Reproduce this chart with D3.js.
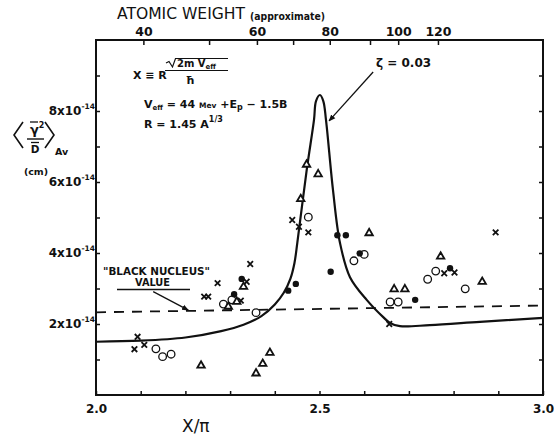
<!DOCTYPE html>
<html><head><meta charset="utf-8">
<script src="https://cdn.jsdelivr.net/npm/d3@7"></script>
<style>body{margin:0;background:#fff} text{font-family:"DejaVu Sans",sans-serif;fill:#111;font-weight:bold}</style>
</head><body>
<svg id="c" width="554" height="439"></svg>
<script>
// ---- data (X/pi, <gamma^2/D> in 1e-14 cm) ----
const crosses = [[2.093,1.64],[2.086,1.29],[2.108,1.41],[2.242,2.77],[2.251,2.77],[2.272,3.15],[2.345,3.69],[2.337,3.19],[2.324,2.66],[2.439,4.93],[2.454,4.74],[2.475,4.58],[2.656,2.0],[2.779,3.43],[2.802,3.45],[2.894,4.58]];
const openCircles = [[2.134,1.30],[2.149,1.08],[2.168,1.15],[2.285,2.56],[2.304,2.68],[2.358,2.32],[2.475,5.01],[2.577,3.78],[2.600,3.96],[2.658,2.62],[2.676,2.62],[2.742,3.26],[2.760,3.49],[2.826,2.99]];
const filledCircles = [[2.326,3.27],[2.309,2.84],[2.430,2.94],[2.447,3.13],[2.540,4.50],[2.559,4.50],[2.525,3.47],[2.590,3.99],[2.714,2.68],[2.792,3.57]];
const triangles = [[2.330,3.05],[2.315,2.63],[2.296,2.49],[2.235,0.83],[2.358,0.61],[2.373,0.88],[2.389,1.19],[2.458,5.52],[2.471,6.49],[2.497,6.22],[2.611,4.56],[2.667,2.98],[2.691,2.98],[2.771,3.90],[2.864,3.19]];
const zetaCurve = [[2.00,1.50],[2.10,1.53],[2.20,1.62],[2.28,1.80],[2.33,1.98],[2.37,2.22],[2.40,2.55],[2.42,2.88],[2.435,3.28],[2.444,3.72],[2.4505,4.30],[2.4714,6.34],[2.4877,7.75],[2.4922,8.28],[2.501,8.45],[2.5085,8.28],[2.5145,7.75],[2.5302,5.77],[2.5459,4.28],[2.5682,3.32],[2.6056,2.68],[2.642,2.20],[2.6577,2.03],[2.680,1.94],[2.747,1.97],[2.859,2.06],[3.00,2.17]];
const blackNucleus = [[2.0,2.33],[3.0,2.52]];
const xTickValues = [2.0,2.1,2.2,2.3,2.4,2.5,2.6,2.7,2.8,2.9,3.0];
const xTickLabels = ["2.0","2.5","3.0"];
const yTickValues = [1,2,3,4,5,6,7,8,9];
const yTickLabels = [2,4,6,8];
const atomicWeight = [40,50,60,70,80,90,100,120];
const atomicWeightPos = [2.106,2.253,2.360,2.441,2.523,2.613,2.676,2.765];
const atomicLabels = [40,60,80,100,120];
const nucleusArrow = [[2.128,2.91],[2.2065,2.39]];
const zetaArrow = [[2.62,9.1],[2.5213,7.72]];

const svg = d3.select("#c");
const x = d3.scaleLinear([2,3],[96,543]);
const y = d3.scaleLinear([0,10],[395,40]);
const ink = "#111";

svg.append("defs").append("marker").attr("id","ah").attr("viewBox","0 0 10 10")
  .attr("refX",9).attr("refY",5).attr("markerWidth",7).attr("markerHeight",7).attr("orient","auto")
  .attr("markerUnits","userSpaceOnUse")
  .append("path").attr("d","M0,1 L10,5 L0,9 Z").attr("fill",ink);

// frame
svg.append("rect").attr("x",x(2)).attr("y",y(10)).attr("width",x(3)-x(2)).attr("height",y(0)-y(10))
  .attr("fill","none").attr("stroke",ink).attr("stroke-width",2);

function styleAxis(g){ g.select(".domain").remove(); g.selectAll("line").attr("stroke",ink).attr("stroke-width",1.5); g.selectAll("text").attr("fill",ink); }

svg.append("g").attr("transform",`translate(0,${y(0)})`)
  .call(d3.axisBottom(x).tickValues(xTickValues).tickSize(-4).tickPadding(9)
    .tickFormat(d=>{const s=d3.format(".1f")(d); return xTickLabels.includes(s)?s:"";}))
  .call(styleAxis).selectAll("text").style("font-size","12px").style("font-weight","bold").attr("font-family","DejaVu Sans");

svg.append("g").attr("transform",`translate(${x(2)},0)`)
  .call(d3.axisLeft(y).tickValues(yTickValues).tickSize(-4).tickFormat("")).call(styleAxis);
svg.append("g").attr("transform",`translate(${x(3)},0)`)
  .call(d3.axisRight(y).tickValues(yTickValues).tickSize(-4).tickFormat("")).call(styleAxis);

const a = d3.scaleLinear(atomicWeight, atomicWeightPos.map(x));
svg.append("g").attr("transform",`translate(0,${y(10)})`)
  .call(d3.axisTop(a).tickValues(atomicWeight).tickSize(-5).tickPadding(4)
    .tickFormat(d=>atomicLabels.includes(d)?d:""))
  .call(styleAxis).selectAll("text").style("font-size","12.5px").style("font-weight","bold");

// y tick labels
yTickLabels.forEach(v=>{
  const t = svg.append("text").attr("x",95).attr("y",y(v)+4).attr("text-anchor","end").style("font-size","12px");
  t.append("tspan").text(v+"x10");
  t.append("tspan").attr("dy",-6).style("font-size","7.5px").text("-14");
});

// titles
svg.append("text").attr("x",117).attr("y",19).style("font-size","16px").style("font-weight","normal")
  .attr("textLength",128).attr("lengthAdjust","spacingAndGlyphs").text("ATOMIC WEIGHT");
svg.append("text").attr("x",250).attr("y",20).style("font-size","10.5px")
  .attr("textLength",75).attr("lengthAdjust","spacingAndGlyphs").text("(approximate)");
svg.append("text").attr("x",182).attr("y",432).style("font-size","17px").style("font-weight","normal").text("X/π");

// y axis label
svg.append("path").attr("d","M23,122 L14,135 L23,148").attr("fill","none").attr("stroke",ink).attr("stroke-width",1.6);
svg.append("path").attr("d","M45,122 L54,135 L45,148").attr("fill","none").attr("stroke",ink).attr("stroke-width",1.6);
const num = svg.append("text").attr("x",30).attr("y",134).style("font-size","13px");
num.append("tspan").text("γ"); num.append("tspan").attr("dy",-6).style("font-size","8px").text("2");
svg.append("line").attr("x1",30).attr("x2",38).attr("y1",122).attr("y2",122).attr("stroke",ink).attr("stroke-width",1.3);
svg.append("line").attr("x1",27).attr("x2",44).attr("y1",139).attr("y2",139).attr("stroke",ink).attr("stroke-width",1.4);
svg.append("line").attr("x1",31).attr("x2",39).attr("y1",142.5).attr("y2",142.5).attr("stroke",ink).attr("stroke-width",1.3);
svg.append("text").attr("x",35).attr("y",153).attr("text-anchor","middle").style("font-size","10.5px").text("D");
svg.append("text").attr("x",55).attr("y",155).style("font-size","9.5px").text("Av");
svg.append("text").attr("x",36).attr("y",175).attr("text-anchor","middle").style("font-size","9.5px").text("(cm)");

// formula block
svg.append("text").attr("x",133).attr("y",79).style("font-size","11px").text("X ≡ R");
svg.append("path").attr("d","M166,63 L169,61.5 L172.5,67 L175.5,58.5 L228,58.5").attr("fill","none").attr("stroke",ink).attr("stroke-width",1.2);
const n2 = svg.append("text").attr("x",177).attr("y",67).style("font-size","10px");
n2.append("tspan").text("2m V"); n2.append("tspan").attr("dy",2).style("font-size","7px").text("eff");
svg.append("line").attr("x1",165).attr("x2",228).attr("y1",70.5).attr("y2",70.5).attr("stroke",ink).attr("stroke-width",1.2);
svg.append("text").attr("x",190).attr("y",84).attr("text-anchor","middle").style("font-size","11px").text("ħ");
const ve = svg.append("text").attr("x",144).attr("y",108).style("font-size","11px");
ve.append("tspan").text("V"); ve.append("tspan").attr("dy",2).style("font-size","7px").text("eff");
ve.append("tspan").attr("dy",-2).text(" = 44 "); ve.append("tspan").style("font-size","7.5px").text("Mev");
ve.append("tspan").text(" +E"); ve.append("tspan").attr("dy",2).style("font-size","8px").text("p");
ve.append("tspan").attr("dy",-2).text(" − 1.5B");
const rr = svg.append("text").attr("x",144).attr("y",128).style("font-size","11px");
rr.append("tspan").text("R = 1.45  A"); rr.append("tspan").attr("dy",-6).style("font-size","8px").text("1/3");

// zeta label & arrow
svg.append("text").attr("x",376).attr("y",67).style("font-size","12px").text("ζ = 0.03");
svg.append("line").attr("x1",x(zetaArrow[0][0])).attr("y1",y(zetaArrow[0][1])).attr("x2",x(zetaArrow[1][0])).attr("y2",y(zetaArrow[1][1]))
  .attr("stroke",ink).attr("stroke-width",1.3).attr("marker-end","url(#ah)");

// black nucleus label
svg.append("text").attr("x",103).attr("y",275).style("font-size","10.5px")
  .attr("textLength",107).attr("lengthAdjust","spacingAndGlyphs").text("\"BLACK NUCLEUS\"");
svg.append("text").attr("x",135).attr("y",286).style("font-size","10.5px")
  .attr("textLength",35).attr("lengthAdjust","spacingAndGlyphs").text("VALUE");
svg.append("line").attr("x1",117).attr("x2",190).attr("y1",289.5).attr("y2",289.5).attr("stroke",ink).attr("stroke-width",1.3);
svg.append("line").attr("x1",x(nucleusArrow[0][0])).attr("y1",y(nucleusArrow[0][1])).attr("x2",x(nucleusArrow[1][0])).attr("y2",y(nucleusArrow[1][1]))
  .attr("stroke",ink).attr("stroke-width",1.3).attr("marker-end","url(#ah)");

// curves
svg.append("path").datum(blackNucleus).attr("d",d3.line(d=>x(d[0]),d=>y(d[1])))
  .attr("fill","none").attr("stroke",ink).attr("stroke-width",1.8).attr("stroke-dasharray","10,8");
svg.append("path").datum(zetaCurve).attr("d",d3.line(d=>x(d[0]),d=>y(d[1])).curve(d3.curveCatmullRom.alpha(0.5)))
  .attr("fill","none").attr("stroke",ink).attr("stroke-width",2.2);

// markers
svg.append("g").selectAll("path").data(crosses).join("path")
  .attr("transform",d=>`translate(${x(d[0])},${y(d[1])})`).attr("d",d3.symbol(d3.symbolX,22))
  .attr("stroke",ink).attr("stroke-width",1.8).attr("fill","none");
svg.append("g").selectAll("circle").data(openCircles).join("circle")
  .attr("cx",d=>x(d[0])).attr("cy",d=>y(d[1])).attr("r",3.8).attr("fill","#fff").attr("stroke",ink).attr("stroke-width",1.3);
svg.append("g").selectAll("circle").data(filledCircles).join("circle")
  .attr("cx",d=>x(d[0])).attr("cy",d=>y(d[1])).attr("r",3.2).attr("fill",ink);
svg.append("g").selectAll("path").data(triangles).join("path")
  .attr("transform",d=>`translate(${x(d[0])},${y(d[1])})`).attr("d",d3.symbol(d3.symbolTriangle,24))
  .attr("fill","#fff").attr("stroke",ink).attr("stroke-width",1.8);
</script>
</body></html>
